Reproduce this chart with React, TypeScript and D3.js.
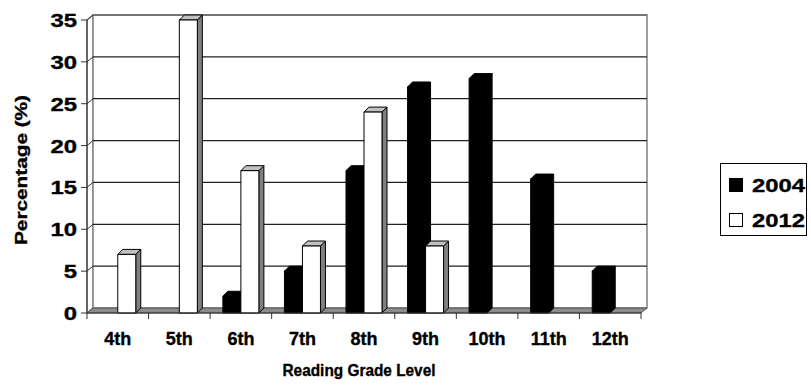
import React from "react";
import * as d3 from "d3";

const categories = ["4th", "5th", "6th", "7th", "8th", "9th", "10th", "11th", "12th"];
const seriesNames = ["2004", "2012"];
const values2004 = [0, 0, 2, 5, 17, 27, 28, 16, 5];
const values2012 = [7, 35, 17, 8, 24, 8, 0, 0, 0];
const yTicks = [0, 5, 10, 15, 20, 25, 30, 35];

const W = 811;
const H = 385;
const FONT = "'Liberation Sans', Arial, Helvetica, sans-serif";

export default function App() {
  const left = 87;
  const right = 641;
  const bottom = 313;
  const top = 20;
  const DX = 6; // wall depth offset
  const DY = -5;
  const BDX = 5; // bar depth
  const BDY = -5;

  const x = d3.scaleBand<string>().domain(categories).range([left, right]).paddingInner(0).paddingOuter(0);
  const step = x.bandwidth();
  const barW = 18;
  const po = (step / barW - 2) / 2;
  const inner = d3.scaleBand<string>().domain(seriesNames).range([0, step]).paddingInner(0).paddingOuter(po);
  const y = d3.scaleLinear().domain([0, 35]).range([bottom, top]);

  const seriesVals: Record<string, number[]> = { "2004": values2004, "2012": values2012 };

  const bars: React.ReactNode[] = [];
  categories.forEach((c, i) => {
    seriesNames.forEach((s) => {
      const v = seriesVals[s][i];
      if (v <= 0) return;
      const x0 = (x(c) as number) + (inner(s) as number);
      const x1 = x0 + inner.bandwidth();
      const y0 = y(0);
      const y1 = y(v);
      const isBlack = s === "2004";
      const front = `M${x0},${y0}L${x0},${y1}L${x1},${y1}L${x1},${y0}Z`;
      const side = `M${x1},${y0}L${x1},${y1}L${x1 + BDX},${y1 + BDY}L${x1 + BDX},${y0 + BDY}Z`;
      const topF = `M${x0},${y1}L${x0 + BDX},${y1 + BDY}L${x1 + BDX},${y1 + BDY}L${x1},${y1}Z`;
      bars.push(
        <g key={`${c}-${s}`}>
          <path d={side} fill={isBlack ? "#000" : "#808080"} stroke="#000" strokeWidth={1} strokeLinejoin="round" />
          <path d={topF} fill={isBlack ? "#000" : "#c0c0c0"} stroke="#000" strokeWidth={1} strokeLinejoin="round" />
          <path d={front} fill={isBlack ? "#000" : "#fff"} stroke="#000" strokeWidth={1} />
        </g>
      );
    });
  });

  const bx0 = left + DX;
  const bx1 = right + DX;
  const by0 = bottom + DY;
  const by1 = top + DY;
  const textStroke = { stroke: "#000", strokeWidth: 0.35 };

  return (
    <svg width={W} height={H} style={{ position: "absolute", left: 0, top: 0, background: "#fff" }} fontFamily={FONT}>
      <rect x={0} y={0} width={W} height={H} fill="#fff" />
      {/* side wall */}
      <path d={`M${left},${bottom}L${left},${top}L${bx0},${by1}L${bx0},${by0}Z`} fill="#fff" stroke="#808080" strokeWidth={1.2} />
      {/* back wall */}
      <rect x={bx0} y={by1} width={bx1 - bx0} height={by0 - by1} fill="#fff" stroke="#808080" strokeWidth={1.5} />
      {/* gridlines */}
      {yTicks.filter((t) => t > 0).map((t) => (
        <g key={`g${t}`}>
          <line x1={left} y1={y(t)} x2={bx0} y2={y(t) + DY} stroke="#333" strokeWidth={1} />
          <line x1={bx0} y1={y(t) + DY} x2={bx1} y2={y(t) + DY} stroke={t === 35 ? "#666" : "#222"} strokeWidth={1.3} />
        </g>
      ))}
      {/* floor */}
      <path d={`M${left},${bottom}L${bx0},${by0}L${bx1},${by0}L${right},${bottom}Z`} fill="#8c8c8c" stroke="#555" strokeWidth={1} />
      {bars}
      {/* front axes */}
      <line x1={left} y1={top} x2={left} y2={bottom} stroke="#333" strokeWidth={1.2} />
      <line x1={left} y1={bottom} x2={right} y2={bottom} stroke="#333" strokeWidth={1.2} />
      {yTicks.map((t) => (
        <g key={`yt${t}`}>
          <line x1={left - 6} y1={y(t)} x2={left} y2={y(t)} stroke="#333" strokeWidth={1} />
          <text
            x={77}
            y={y(t) + 7}
            textAnchor="end"
            fontSize={19}
            fontWeight="bold"
            textLength={String(t).length * 13.3}
            lengthAdjust="spacingAndGlyphs"
            fill="#000"
            {...textStroke}
          >
            {t}
          </text>
        </g>
      ))}
      {d3.range(categories.length + 1).map((i) => {
        const xx = left + i * step;
        return <line key={`xt${i}`} x1={xx} y1={bottom} x2={xx} y2={bottom + 6} stroke="#333" strokeWidth={1} />;
      })}
      {categories.map((c) => (
        <text
          key={`xl${c}`}
          x={(x(c) as number) + step / 2}
          y={345}
          textAnchor="middle"
          fontSize={18}
          fontWeight="bold"
          fill="#000"
          {...textStroke}
        >
          {c}
        </text>
      ))}
      <text x={359} y={376} textAnchor="middle" fontSize={17} fontWeight="bold" textLength={153} lengthAdjust="spacingAndGlyphs" {...textStroke}>
        Reading Grade Level
      </text>
      <text
        transform={`translate(27,170) rotate(-90)`}
        textAnchor="middle"
        fontSize={16}
        fontWeight="bold"
        textLength={150}
        lengthAdjust="spacingAndGlyphs"
        {...textStroke}
      >
        Percentage (%)
      </text>
      {/* legend */}
      <rect x={720.5} y={163.5} width={86} height={72} fill="#fff" stroke="#000" strokeWidth={1} />
      {seriesNames.map((s, i) => (
        <g key={`lg${s}`}>
          <rect x={729.5} y={178.5 + i * 35} width={13} height={13} fill={s === "2004" ? "#000" : "#fff"} stroke="#000" strokeWidth={1} />
          <text x={752} y={192 + i * 35} fontSize={19} fontWeight="bold" textLength={53} lengthAdjust="spacingAndGlyphs" {...textStroke}>
            {s}
          </text>
        </g>
      ))}
    </svg>
  );
}
